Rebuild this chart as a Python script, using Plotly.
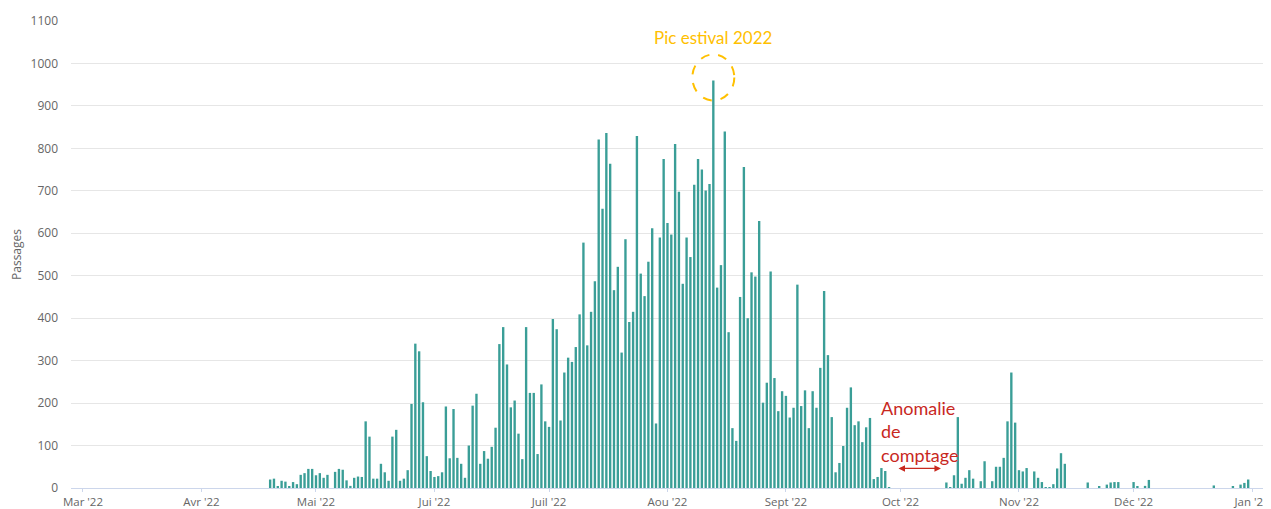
import pandas as pd
import plotly.graph_objects as go

# Daily passages, one list per month (April starts on the 19th)
april = [20, 22, 3, 17, 15, 4, 14, 9, 31, 35, 45, 45]
may = [30, 35, 24, 31, 0, 38, 45, 43, 18, 5, 24, 27, 26, 157, 121, 22, 22, 57, 37, 17,
       121, 137, 17, 22, 42, 198, 340, 322, 202, 75, 40]
june = [26, 28, 37, 192, 70, 186, 71, 57, 24, 100, 194, 222, 57, 87, 69, 97, 142, 339, 379, 291,
        190, 206, 128, 68, 379, 224, 224, 80, 244, 157]
july = [144, 398, 374, 159, 272, 307, 297, 332, 409, 578, 336, 415, 487, 821, 658, 836, 764, 466,
        521, 319, 586, 391, 415, 829, 505, 452, 533, 612, 152, 590, 775]
august = [624, 597, 810, 698, 481, 590, 544, 714, 775, 750, 701, 716, 960, 472, 525, 840, 367, 141,
          111, 450, 756, 400, 508, 498, 629, 201, 248, 510, 259, 181, 228]
september = [217, 166, 189, 479, 193, 230, 141, 228, 189, 283, 464, 313, 167, 37, 59, 99, 189, 237,
             148, 157, 108, 143, 165, 21, 26, 47, 40, 2, 0, 0]
october = [0, 0, 0, 0, 0, 0, 0, 0, 0, 0, 0, 0, 13, 2, 30, 167, 10, 24, 42, 22, 0, 16, 63, 0, 16,
           50, 50, 71, 157, 272, 154]
november = [42, 39, 47, 0, 39, 24, 14, 2, 2, 9, 46, 82, 57, 0, 0, 0, 0, 0, 13, 0, 0, 3, 0, 8,
            13, 14, 14, 0, 0, 0]
december = [14, 4, 0, 5, 19, 0, 0, 0, 0, 0, 0, 0, 0, 0, 0, 0, 0, 0, 0, 0, 0, 6, 0, 0, 0, 0,
            3, 0, 8, 12, 20]

month_starts = ["2022-04-19", "2022-05-01", "2022-06-01", "2022-07-01", "2022-08-01",
                "2022-09-01", "2022-10-01", "2022-11-01", "2022-12-01"]
month_values = [april, may, june, july, august, september, october, november, december]

tick_dates = ["2022-03-01", "2022-04-01", "2022-05-01", "2022-06-01", "2022-07-01",
              "2022-08-01", "2022-09-01", "2022-10-01", "2022-11-01", "2022-12-01", "2023-01-01"]
tick_labels = ["Mar '22", "Avr '22", "Mai '22", "Jui '22", "Juil '22", "Aou '22",
               "Sept '22", "Oct '22", "Nov '22", "Déc '22", "Jan '23"]

peak_date = "2022-08-13"
peak_label = "Pic estival 2022"
anomaly_label = "Anomalie<br>de<br>comptage"
anomaly_text_date = "2022-09-25 10:00"
anomaly_start = "2022-09-30 02:00"
anomaly_end = "2022-10-11 14:00"

dates, values = [], []
for start, vals in zip(month_starts, month_values):
    dates += list(pd.date_range(start, periods=len(vals), freq="D"))
    values += vals

fig = go.Figure(go.Bar(x=dates, y=values, marker_color="#3a9e97",
                       marker_line_width=0))

font_family = "Open Sans, Lato, sans-serif"
# The page body has an 8px margin, so the figure is sized/placed to compensate.
fig.update_layout(
    width=1263, height=501,
    margin=dict(l=63, r=8, t=13, b=21, autoexpand=False),
    paper_bgcolor="white", plot_bgcolor="white",
    bargap=0.38,
    showlegend=False,
    font=dict(family=font_family, size=12, color="#666666"),
    xaxis=dict(
        range=["2022-02-25 21:00", "2023-01-03 21:00"],
        tickvals=tick_dates, ticktext=tick_labels,
        showgrid=False, showline=True, linecolor="#ccd6eb", linewidth=1,
        ticks="outside", ticklen=3, tickcolor="#ccd6eb",
        tickfont=dict(size=11.5, color="#666666"),
        zeroline=False, automargin=False,
    ),
    yaxis=dict(
        range=[0, 1100], dtick=100, tick0=0,
        showgrid=True, gridcolor="#e6e6e6", gridwidth=1,
        zeroline=False, showline=False, automargin=False,
        ticklabelstandoff=12,
        tickfont=dict(size=12, color="#666666"),
        title=dict(text="Passages", font=dict(size=12, color="#666666"), standoff=8),
    ),
)

fig.add_shape(type="circle", xref="x", yref="y", xsizemode="pixel", ysizemode="pixel",
              xanchor=peak_date, yanchor=967, x0=-21, x1=21, y0=-23, y1=23,
              line=dict(color="#FFC000", width=2, dash="dash"))

fig.add_annotation(x=peak_date, y=1060, xref="x", yref="y", text=peak_label,
                   showarrow=False, font=dict(family="Lato, sans-serif", size=17, color="#FFC000"))

fig.add_annotation(x=anomaly_text_date, y=218, xref="x", yref="y", text=anomaly_label,
                   showarrow=False, xanchor="left", yanchor="top", align="left",
                   font=dict(family="Lato, sans-serif", size=18, color="#C8281E"))

fig.add_annotation(x=anomaly_end, y=46, ax=anomaly_start, ay=46, xref="x", yref="y",
                   axref="x", ayref="y", text="", showarrow=True, arrowhead=2,
                   arrowside="end+start", arrowsize=1, arrowwidth=1.3, arrowcolor="#C8281E")

fig.write_html("out.html")
